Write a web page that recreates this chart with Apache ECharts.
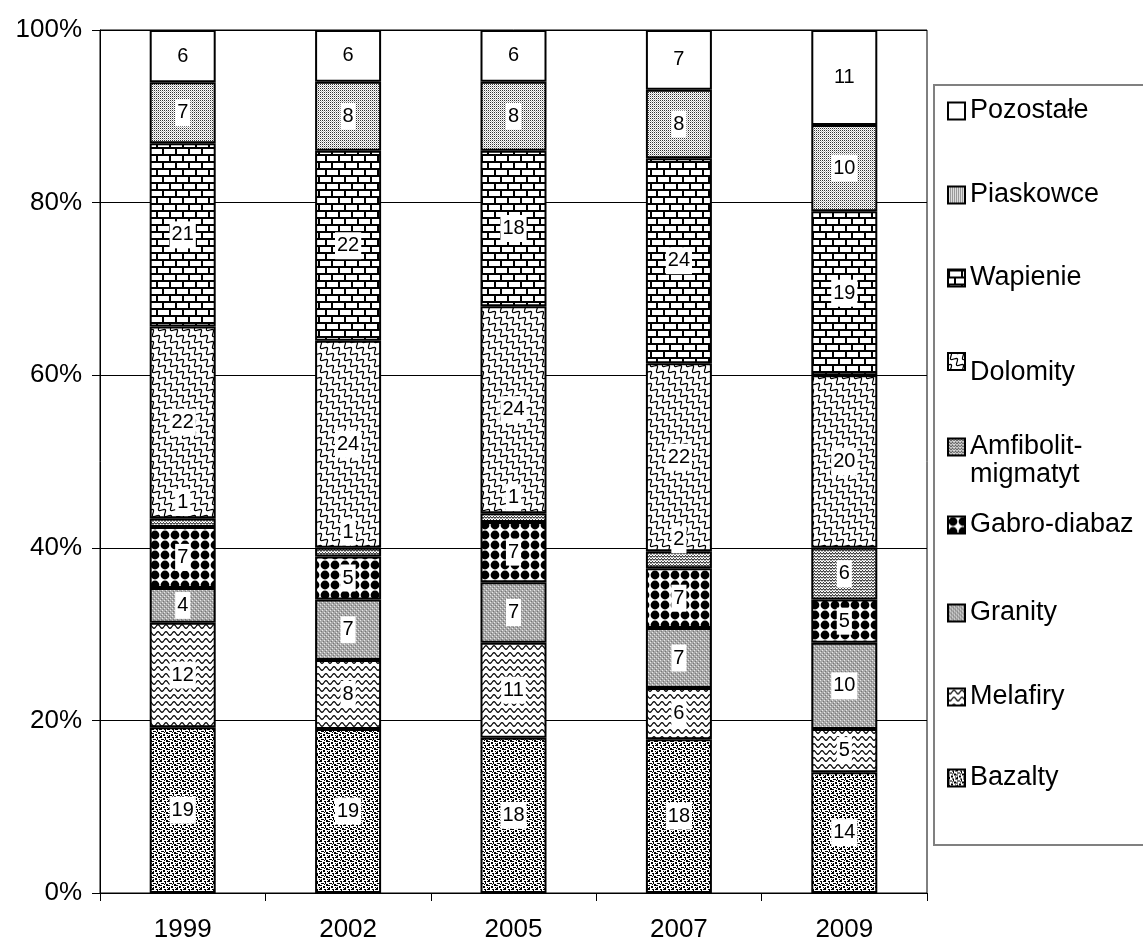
<!DOCTYPE html>
<html>
<head>
<meta charset="utf-8">
<script src="https://cdn.jsdelivr.net/npm/echarts@6/dist/echarts.min.js"></script>
<style>
  html, body { margin: 0; padding: 0; background: #fff; }
  #chart { width: 1143px; height: 945px; }
</style>
</head>
<body>
<div id="chart"></div>
<script>
// Years on the category axis
const categories = ['1999', '2002', '2005', '2007', '2009'];

// Share of each rock type (percent, as labelled)
const bazalty   = [19, 19, 18, 18, 14];
const melafiry  = [12, 8, 11, 6, 5];
const granity   = [4, 7, 7, 7, 10];
const gabro     = [7, 5, 7, 7, 5];
const amfibolit = [1, 1, 1, 2, 6];
const dolomity  = [22, 24, 24, 22, 20];
const wapienie  = [21, 22, 18, 24, 19];
const piaskowce = [7, 8, 8, 8, 10];
const pozostale = [6, 6, 6, 7, 11];

const seriesNames = ['Bazalty', 'Melafiry', 'Granity', 'Gabro-diabaz', 'Amfibolit-migmatyt',
                     'Dolomity', 'Wapienie', 'Piaskowce', 'Pozostałe'];
const seriesValues = [bazalty, melafiry, granity, gabro, amfibolit, dolomity, wapienie, piaskowce, pozostale];

const yTickLabels = ['0%', '20%', '40%', '60%', '80%', '100%'];

const FONT = 'Liberation Sans, Arial, sans-serif';

// ---- fill patterns -------------------------------------------------------
function tile(w, h, draw) {
  const c = document.createElement('canvas');
  c.width = w; c.height = h;
  const g = c.getContext('2d');
  g.fillStyle = '#fff';
  g.fillRect(0, 0, w, h);
  g.fillStyle = '#000';
  g.strokeStyle = '#000';
  draw(g, w, h);
  return { image: c, repeat: 'repeat' };
}

const patterns = {
  'Bazalty': tile(8, 8, g => {
    [[0,0,2,2],[4,1,2,1],[2,3,2,1],[6,4,2,2],[0,5,2,1],[3,6,2,2],[5,2,1,2],[7,7,1,1],[1,3,1,1],[7,1,1,1],[4,4,1,1],[1,7,1,1]]
      .forEach(r => g.fillRect(r[0], r[1], r[2], r[3]));
  }),
  'Melafiry': tile(8, 7, g => {
    g.lineWidth = 1.2;
    g.beginPath();
    for (let x = -1; x <= 9; x += 0.5) {
      const y = 3.5 + 1.8 * Math.sin(2 * Math.PI * x / 8);
      if (x === -1) g.moveTo(x, y); else g.lineTo(x, y);
    }
    g.stroke();
  }),
  'Granity': tile(4, 4, g => {
    g.fillStyle = '#a9a9a9';
    g.fillRect(0, 0, 4, 4);
    g.fillStyle = '#e8e8e8';
    g.fillRect(0, 0, 1, 1); g.fillRect(2, 2, 1, 1);
    g.fillStyle = '#777';
    g.fillRect(1, 3, 1, 1); g.fillRect(3, 1, 1, 1);
  }),
  'Gabro-diabaz': tile(10, 10, g => {
    g.beginPath();
    g.arc(5, 5, 4.4, 0, Math.PI * 2);
    g.fill();
  }),
  'Amfibolit-migmatyt': tile(6, 6, g => {
    g.lineWidth = 1;
    g.beginPath();
    g.moveTo(0, 2.5); g.lineTo(1.5, 0.5); g.lineTo(3, 2.5); g.lineTo(4.5, 0.5); g.lineTo(6, 2.5);
    g.moveTo(0, 5.5); g.lineTo(1.5, 3.5); g.lineTo(3, 5.5); g.lineTo(4.5, 3.5); g.lineTo(6, 5.5);
    g.stroke();
  }),
  'Dolomity': tile(12, 12, g => {
    g.lineWidth = 1.2;
    const A = 2.6;
    [-12, 0, 12].forEach(dx => {
      g.beginPath();
      for (let t = -6; t <= 18; t += 0.5) {
        const o = A * Math.sin(2 * Math.PI * t / 6) / Math.SQRT2;
        const x = t + o + dx, y = t - o;
        if (t === -6) g.moveTo(x, y); else g.lineTo(x, y);
      }
      g.stroke();
    });
  }),
  'Wapienie': tile(26, 14, g => {
    g.fillRect(0, 0, 26, 2);
    g.fillRect(0, 7, 26, 2);
    g.fillRect(0, 2, 2, 5);
    g.fillRect(13, 2, 2, 5);
    g.fillRect(6, 9, 2, 5);
    g.fillRect(19, 9, 2, 5);
  }),
  'Piaskowce': tile(2, 2, g => {
    g.fillStyle = '#333';
    g.fillRect(0, 0, 1, 1);
    g.fillStyle = '#bbb';
    g.fillRect(1, 1, 1, 1);
  }),
  'Pozostałe': '#ffffff'
};

// ---- data -> 100% stacked series -----------------------------------------
const totals = categories.map((_, i) => seriesValues.reduce((s, arr) => s + arr[i], 0));

const series = seriesNames.map((name, k) => ({
  name: name,
  type: 'bar',
  stack: 'total',
  barWidth: 66,
  itemStyle: { color: patterns[name], borderColor: '#000', borderWidth: 2 },
  label: {
    show: true,
    position: 'inside',
    formatter: p => String(p.data.raw),
    color: '#000',
    fontFamily: FONT,
    fontSize: 20,
    lineHeight: 22,
    backgroundColor: '#fff',
    padding: [3, 2, 2, 2]
  },
  emphasis: { disabled: true },
  data: seriesValues[k].map((v, i) => {
    const item = { value: v / totals[i] * 100, raw: v };
    if (v <= 2) item.label = { offset: [0, -20] };
    return item;
  })
}));

// ---- legend entries (one block each, stacked down the right side) --------
// The leading empty line keeps the swatch level with the first text line.
const legendEntries = [
  { name: 'Pozostałe',          top: 97 },
  { name: 'Piaskowce',          top: 181 },
  { name: 'Wapienie',           top: 264 },
  { name: 'Dolomity',           top: 337, text: '{d|Dolomity}' },
  { name: 'Amfibolit-migmatyt', top: 405, text: '\nAmfibolit-\nmigmatyt' },
  { name: 'Gabro-diabaz',       top: 511 },
  { name: 'Granity',            top: 599 },
  { name: 'Melafiry',           top: 683 },
  { name: 'Bazalty',            top: 764 }
];

const legendText = { color: '#000', fontFamily: FONT, fontSize: 27, lineHeight: 28 };

const legends = legendEntries.map(e => ({
  data: [e.name],
  orient: 'vertical',
  left: 947,
  top: e.top,
  padding: 0,
  itemGap: 0,
  itemWidth: 17,
  itemHeight: 17,
  icon: 'rect',
  selectedMode: false,
  itemStyle: { borderColor: '#000', borderWidth: 2 },
  formatter: n => e.text || n,
  textStyle: Object.assign({}, legendText, {
    rich: {
      d: Object.assign({}, legendText, { padding: [22, 0, 0, 0] })
    }
  })
}));

const chart = echarts.init(document.getElementById('chart'), null, { renderer: 'canvas' });

chart.setOption({
  animation: false,
  backgroundColor: '#fff',
  grid: {
    left: 100, right: 216, top: 30, bottom: 52,
    show: true, borderColor: '#000', borderWidth: 1, backgroundColor: 'transparent'
  },
  legend: legends,
  graphic: [{
    type: 'rect',
    z: 0,
    shape: { x: 934, y: 85, width: 230, height: 760 },
    style: { fill: 'none', stroke: '#808080', lineWidth: 2 }
  }],
  xAxis: {
    type: 'category',
    data: categories,
    axisLine: { lineStyle: { color: '#000', width: 1 } },
    axisTick: { show: true, length: 8, alignWithLabel: false, lineStyle: { color: '#000' } },
    axisLabel: { color: '#000', fontFamily: FONT, fontSize: 26, margin: 24 },
    splitLine: { show: false }
  },
  yAxis: {
    type: 'value',
    min: 0, max: 100, interval: 20,
    axisLine: { show: true, lineStyle: { color: '#000', width: 1 } },
    axisTick: { show: true, length: 8, lineStyle: { color: '#000' } },
    axisLabel: {
      color: '#000', fontFamily: FONT, fontSize: 26, margin: 18,
      formatter: v => yTickLabels[Math.round(v / 20)]
    },
    splitLine: { show: true, lineStyle: { color: '#000', width: 1 } }
  },
  series: series
});
</script>
</body>
</html>
